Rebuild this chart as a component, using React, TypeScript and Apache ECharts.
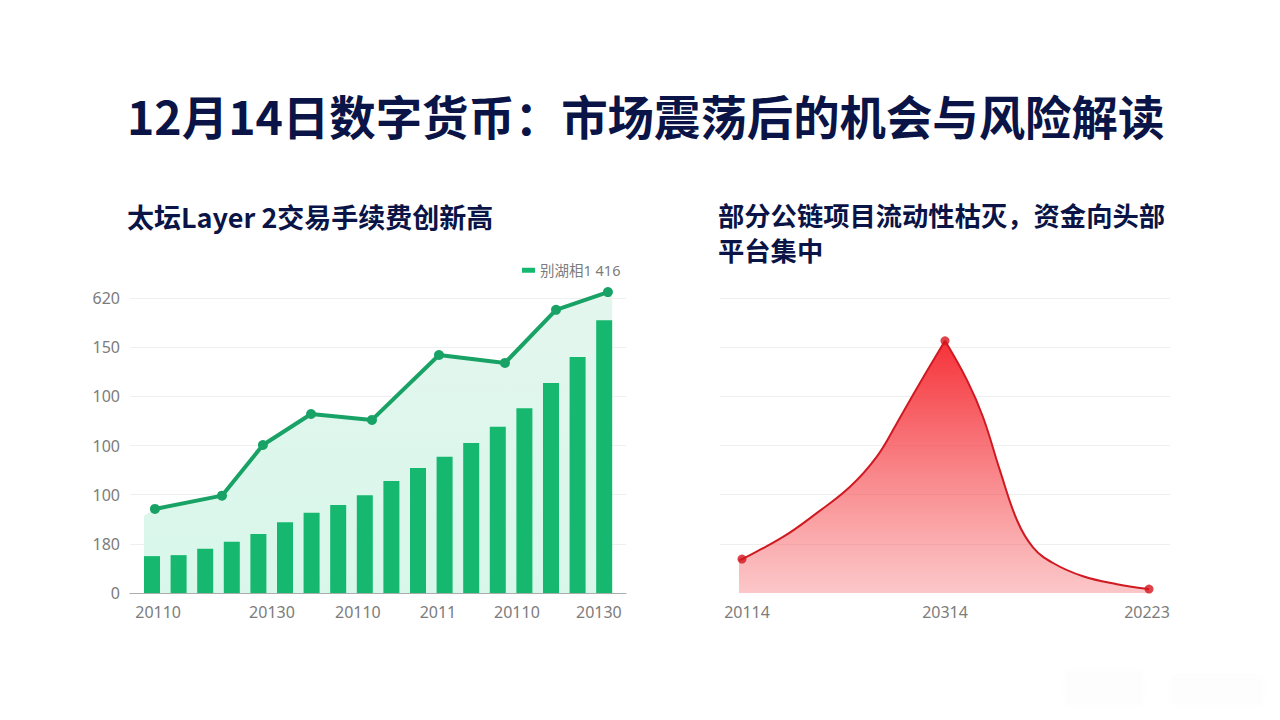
import React, { useEffect, useRef } from "react";
import * as echarts from "echarts";

const mainTitle = "12月14日数字货币：市场震荡后的机会与风险解读";
const leftTitle = "太坛Layer 2交易手续费创新高";
const rightTitle = "部分公链项目流动性枯灭，资金向头部\n平台集中";
const legendName = "别湖相1 416";

const yTickLabels: Record<number, string> = { 0: "0", 100: "180", 200: "100", 300: "100", 400: "100", 500: "150", 600: "620" };

// left chart: x measured in bar slots
const barValues = [75, 77, 90, 104, 120, 144, 163, 179, 199, 228, 254, 277, 305, 338, 376, 427, 480, 555];
const lineX = [0.11, 2.63, 4.17, 5.98, 8.27, 10.79, 13.27, 15.19, 17.14];
const lineValues = [171, 198, 301, 364, 352, 484, 468, 576, 612];
const bandX = [-0.3, 0.11, 2.63, 4.17, 5.98, 8.27, 10.79, 13.27, 15.19, 17.14, 17.3];
const bandValues = [157, 171, 198, 301, 364, 352, 484, 468, 576, 612, 618];
const leftXTickPos = [0.23, 4.51, 7.74, 10.75, 13.72, 16.8];
const leftXTickText = ["20110", "20130", "20110", "2011", "20110", "20130"];

// right chart: x measured along the axis, 0 to 450; the rise and the fall meet at the peak
const riseX = [19, 22, 63, 97, 130, 157, 177, 197, 225];
const riseValues = [67, 69, 114, 163, 216, 278, 346, 417, 513];
const fallX = [225, 247, 263, 280, 297, 313, 333, 363, 397, 429];
const fallValues = [513, 433, 358, 249, 148, 93, 61, 34, 18, 8];
const markX = [22, 225, 429];
const markValues = [69, 513, 8];
const rightXTickPos = [27, 225, 427];
const rightXTickText = ["20114", "20314", "20223"];

const CJK = '"Noto Sans CJK SC", "Noto Sans", sans-serif';
const LABEL = '"Noto Sans", "Noto Sans CJK SC", sans-serif';

export default function App() {
  const ref = useRef<HTMLDivElement>(null);
  useEffect(() => {
    document.body.style.margin = "0";
    document.body.style.background = "#ffffff";
    const chart = echarts.init(ref.current!, null, { renderer: "svg" });
    const slotMin = -0.827;
    const slotMax = 17.82;
    const yCommon = {
      type: "value",
      min: 0,
      max: 600,
      interval: 100,
      axisLine: { show: false },
      axisTick: { show: false },
    };
    const xLabel = (positions: number[], texts: string[]) => ({
      color: "#7c7c7c",
      fontSize: 16,
      fontFamily: LABEL,
      margin: 11,
      hideOverlap: false,
      showMinLabel: true,
      showMaxLabel: true,
      customValues: positions,
      formatter: (v: number) => texts[positions.indexOf(v)] ?? "",
    });
    const redFill = () => ({
      opacity: 1,
      color: new echarts.graphic.LinearGradient(0, 0, 0, 1, [
        { offset: 0, color: "rgba(245,45,52,0.98)" },
        { offset: 1, color: "rgba(245,80,85,0.32)" },
      ]),
    });
    const redCurve = (name: string, xs: number[], vs: number[]) => ({
      name,
      type: "line",
      xAxisIndex: 1,
      yAxisIndex: 1,
      data: xs.map((x, i) => [x, vs[i]]),
      smooth: 0.4,
      showSymbol: false,
      lineStyle: { color: "#cf1a22", width: 2 },
      areaStyle: redFill(),
      z: 2,
    });
    chart.setOption({
      animation: false,
      backgroundColor: "#ffffff",
      title: [
        { text: mainTitle, left: 122, top: 77, textStyle: { fontFamily: CJK, fontSize: 46.4, fontWeight: 700, color: "#0a1446", lineHeight: 64 } },
        { text: leftTitle, left: 122, top: 193, textStyle: { fontFamily: CJK, fontSize: 27, fontWeight: 700, color: "#0a1446", lineHeight: 36 } },
        { text: rightTitle, left: 713, top: 192, textStyle: { fontFamily: CJK, fontSize: 26.3, fontWeight: 700, color: "#0a1446", lineHeight: 35 } },
      ],
      graphic: [
        { type: "rect", shape: { x: 1066, y: 672, width: 76, height: 32 }, style: { fill: "#fdfdfd", shadowBlur: 14, shadowColor: "#fcfcfc" }, silent: true },
        { type: "rect", shape: { x: 1172, y: 678, width: 90, height: 26 }, style: { fill: "#fdfdfd", shadowBlur: 14, shadowColor: "#fcfcfc" }, silent: true },
      ],
      legend: {
        show: true,
        left: 517,
        top: 258,
        icon: "rect",
        itemWidth: 13,
        itemHeight: 5,
        itemGap: 5,
        data: [legendName],
        textStyle: { color: "#7c7c7c", fontSize: 14.5, fontFamily: LABEL },
      },
      grid: [
        { left: 130, right: 654, top: 298, bottom: 127 },
        { left: 720, right: 110, top: 298, bottom: 127 },
      ],
      xAxis: [
        {
          type: "value",
          gridIndex: 0,
          min: slotMin,
          max: slotMax,
          splitLine: { show: false },
          axisTick: { show: false },
          axisLine: { show: true, onZero: false, lineStyle: { color: "#a9adab", width: 1 } },
          axisLabel: xLabel(leftXTickPos, leftXTickText),
        },
        {
          type: "value",
          gridIndex: 1,
          min: 0,
          max: 450,
          splitLine: { show: false },
          axisTick: { show: false },
          axisLine: { show: false },
          axisLabel: xLabel(rightXTickPos, rightXTickText),
        },
      ],
      yAxis: [
        {
          ...yCommon,
          gridIndex: 0,
          splitLine: { show: true, lineStyle: { color: "#eef0ef", width: 1 } },
          axisLabel: { color: "#7c7c7c", fontSize: 16, fontFamily: LABEL, margin: 10, padding: [2, 0, 0, 0], formatter: (v: number) => yTickLabels[v] ?? "" },
        },
        {
          ...yCommon,
          gridIndex: 1,
          splitLine: { show: true, showMinLine: false, lineStyle: { color: "#eef0ef", width: 1 } },
          axisLabel: { show: false },
        },
      ],
      series: [
        {
          name: "band",
          type: "line",
          xAxisIndex: 0,
          yAxisIndex: 0,
          clip: false,
          data: bandX.map((x, i) => [x, bandValues[i]]),
          showSymbol: false,
          lineStyle: { width: 0 },
          areaStyle: {
            opacity: 1,
            color: new echarts.graphic.LinearGradient(0, 0, 0, 1, [
              { offset: 0, color: "#e4f6ee" },
              { offset: 1, color: "#d8f7ea" },
            ]),
          },
          z: 1,
        },
        {
          name: legendName,
          type: "bar",
          xAxisIndex: 0,
          yAxisIndex: 0,
          barWidth: 16,
          data: barValues.map((v, i) => [i, v]),
          itemStyle: { color: "#15b86e" },
          z: 2,
        },
        {
          name: "line",
          type: "line",
          xAxisIndex: 0,
          yAxisIndex: 0,
          clip: false,
          data: lineX.map((x, i) => [x, lineValues[i]]),
          symbol: "circle",
          symbolSize: 10,
          lineStyle: { color: "#18a265", width: 4 },
          itemStyle: { color: "#18a265" },
          z: 3,
        },
        redCurve("rise", riseX, riseValues),
        redCurve("fall", fallX, fallValues),
        {
          name: "marks",
          type: "scatter",
          xAxisIndex: 1,
          yAxisIndex: 1,
          data: markX.map((x, i) => [x, markValues[i]]),
          symbolSize: 9,
          itemStyle: { color: "#d3151d" },
          z: 3,
        },
      ],
    });
    return () => chart.dispose();
  }, []);
  return <div ref={ref} style={{ width: 1280, height: 720 }} />;
}
